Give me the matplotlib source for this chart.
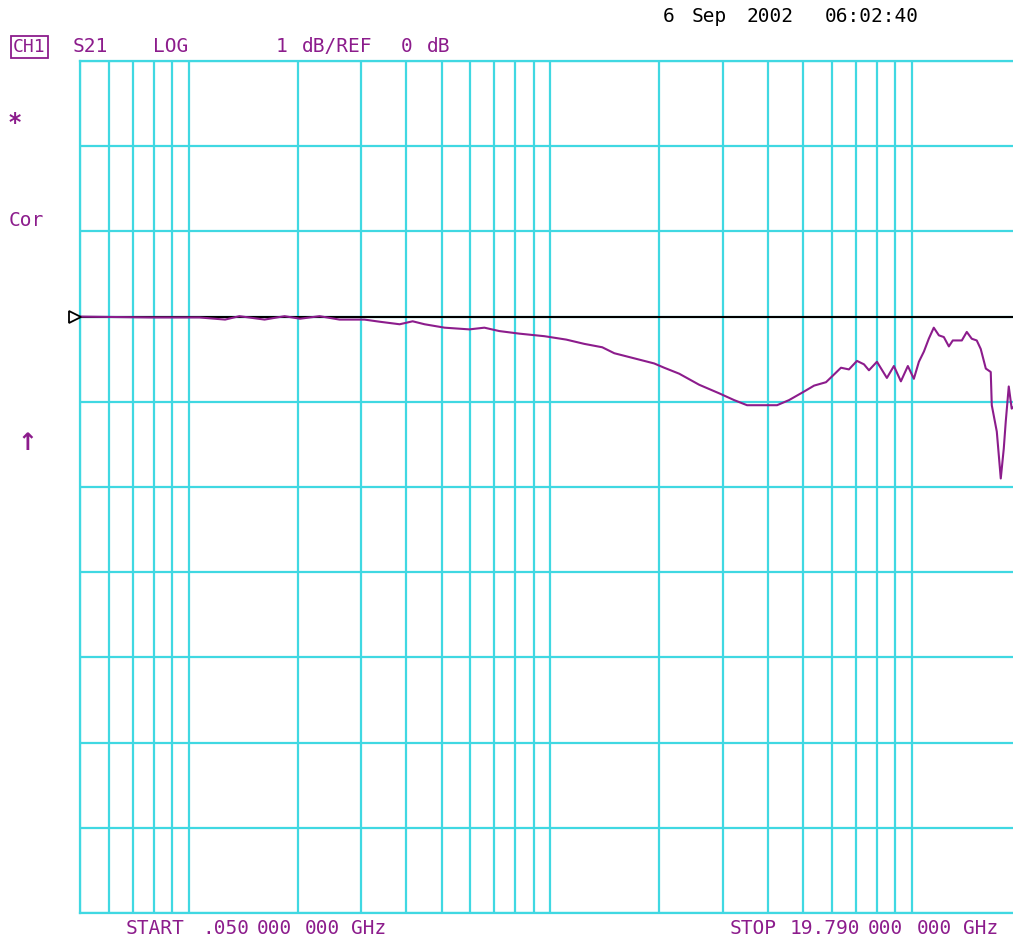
import numpy as np
import matplotlib
matplotlib.use("Agg")
import matplotlib.pyplot as plt
from matplotlib.ticker import LogLocator, NullLocator, NullFormatter
from matplotlib.transforms import offset_copy

# S21 trace, frequency in GHz, magnitude in dB
freq_ghz = [0.050, 0.078, 0.107, 0.126, 0.138, 0.162, 0.184, 0.203, 0.230, 0.261,
            0.306, 0.337, 0.383, 0.416, 0.449, 0.510, 0.597, 0.657, 0.723, 0.821,
            0.963, 1.107, 1.241, 1.392, 1.503, 1.707, 1.938, 2.065, 2.272, 2.581,
            2.930, 3.224, 3.501, 4.238, 4.574, 5.032, 5.365, 5.789, 6.090, 6.368,
            6.699, 7.050, 7.372, 7.610, 8.007, 8.531, 8.920, 9.326, 9.750, 10.13,
            10.46, 10.80, 11.14, 11.50, 11.88, 12.26, 12.66, 12.98, 13.75, 14.19,
            14.65, 15.12, 15.51, 16.02, 16.53, 16.64, 17.18, 17.62, 17.96, 18.19,
            18.54, 18.89, 19.79]
s21_db = [0.00, -0.01, -0.01, -0.035, 0.005, -0.035, 0.005, -0.025, 0.005, -0.035,
          -0.035, -0.06, -0.09, -0.055, -0.09, -0.13, -0.15, -0.13, -0.17, -0.20,
          -0.23, -0.27, -0.32, -0.36, -0.43, -0.49, -0.55, -0.60, -0.67, -0.80,
          -0.90, -0.98, -1.04, -1.04, -0.98, -0.88, -0.81, -0.77, -0.68, -0.60,
          -0.62, -0.52, -0.56, -0.63, -0.53, -0.72, -0.58, -0.76, -0.58, -0.73,
          -0.53, -0.41, -0.26, -0.13, -0.22, -0.24, -0.35, -0.28, -0.28, -0.18,
          -0.26, -0.28, -0.38, -0.61, -0.65, -1.04, -1.35, -1.90, -1.55, -1.23,
          -0.82, -1.08, -1.00]

start_ghz = 0.05
stop_ghz = 19.79
ref_db = 0
db_top = 3
db_bottom = -7

# screen annotations, word by word (the analyzer font is widely spaced)
date_words = ['6', 'Sep', '2002', '06:02:40']
header_words = ['S21', 'LOG', '1', 'dB/REF', '0', 'dB']
start_words = ['START', '.050', '000', '000', 'GHz']
stop_words = ['STOP', '19.790', '000', '000', 'GHz']

W, H = 1013, 939
GRID = '#40d8e2'
TRACE = '#8c1c8c'
MONO = 'DejaVu Sans Mono'

fig = plt.figure(figsize=(W / 100, H / 100), dpi=100)
fig.patch.set_facecolor('white')
# grid runs a little past the right edge of the screenshot
ax = fig.add_axes([80 / W, (H - 913) / H, (1019 - 80) / W, (913 - 61) / H])

ax.set_xscale('log')
ax.set_xlim(start_ghz, stop_ghz)
ax.set_ylim(db_bottom, db_top)
ax.xaxis.set_major_locator(LogLocator(base=10, subs=np.arange(1, 10), numticks=100))
ax.xaxis.set_minor_locator(NullLocator())
ax.xaxis.set_major_formatter(NullFormatter())
ax.set_yticks(np.arange(db_bottom, db_top + 1))
ax.yaxis.set_major_formatter(NullFormatter())
ax.tick_params(length=0)
ax.grid(True, which='major', color=GRID, lw=1.6)
ax.set_axisbelow(True)
for side in ['left', 'top', 'bottom']:
    ax.spines[side].set_color(GRID)
    ax.spines[side].set_linewidth(1.6)
ax.spines['right'].set_visible(False)

# reference line and its marker
ax.axhline(ref_db, color='black', lw=1.5, zorder=3)
tri = offset_copy(ax.transData, fig=fig, x=-5, y=0, units='dots')
ax.plot([start_ghz], [ref_db], marker='>', ms=9, mfc='white', mec='black',
        mew=1.3, clip_on=False, transform=tri, zorder=5)

ax.plot(freq_ghz, s21_db, color=TRACE, lw=1.5, zorder=4)


def put(x, y, s, **kw):
    kw.setdefault('fontsize', 14)
    kw.setdefault('family', MONO)
    fig.text(x / W, 1 - y / H, s, va='center', **kw)


def put_words(xs, y, words, **kw):
    for x, w in zip(xs, words):
        put(x, y, w, **kw)


put_words([663, 692, 746, 825], 17, date_words, color='black')
put(13, 47, 'CH1', color=TRACE, fontsize=13,
    bbox=dict(boxstyle='square,pad=0.12', fc='none', ec=TRACE, lw=1.3))
put_words([73, 153, 276, 302, 401, 427], 47, header_words, color=TRACE)
put(8, 123, '*', color=TRACE, fontsize=17, fontweight='bold')
put(9, 220, 'Cor', color=TRACE)
put(27, 443, '\u2191', color=TRACE, fontsize=17, fontweight='bold',
    family='DejaVu Sans', ha='center')
put_words([126, 202, 257, 305, 351], 929, start_words, color=TRACE)
put_words([730, 790, 868, 917, 963], 929, stop_words, color=TRACE)

fig.savefig('out.png', dpi=100, facecolor='white')
